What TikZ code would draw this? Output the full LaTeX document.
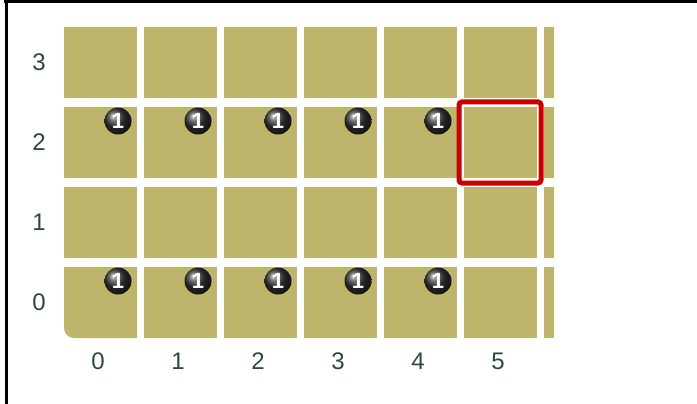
\documentclass[tikz,border=0pt]{standalone}
\usepackage{fontspec}
\setmainfont{Liberation Sans}
\definecolor{cellc}{RGB}{189,181,107}
\definecolor{redc}{RGB}{200,0,0}
\definecolor{labc}{RGB}{45,70,70}
\begin{document}
\begin{tikzpicture}[x=1pt,y=-1pt,
  cell/.style={fill=cellc,draw=none},
  lab/.style={text=labc,font=\fontsize{24}{24}\selectfont,inner sep=0pt},
  ball/.style={circle,minimum size=27pt,inner sep=0pt,shading=ball,ball color=black!80,
     text=white,font=\bfseries\fontsize{22}{22}\selectfont}]
\useasboundingbox (0,0) rectangle (697,404);
\fill[white] (0,0) rectangle (697,404);
% frame
\draw[line width=3pt] (4,2) -- (697,2);
\draw[line width=3pt] (6,0) -- (6,404);
% cells
\foreach \c in {0,...,5}{
  \foreach \r in {1,2,3}{
    \fill[cell] ({64+80*\c},{27+80*(3-\r)}) rectangle ++(73,71);
  }
}
\foreach \c in {1,...,5}{
  \fill[cell] ({64+80*\c},267) rectangle ++(73,71);
}
\fill[cell] (64,267) -- (137,267) -- (137,338) -- (74,338) arc[start angle=270,end angle=180,radius=10pt] -- cycle;
\foreach \r in {0,...,3}{
  \fill[cell] (544,{27+80*(3-\r)}) rectangle ++(10,71);
}
% highlighted square
\node[draw=redc,line width=5pt,rounded corners=3pt,minimum width=82pt,minimum height=81pt,inner sep=0pt] (sel) at (500,142.5) {};
% balls
\foreach \c in {0,...,4}{
  \node[ball] (b2\c) at ({118+80*\c},121) {1};
  \node[ball] (b0\c) at ({118+80*\c},281) {1};
}
% labels
\foreach \r in {0,...,3}{
  \node[lab] (r\r) at (39,{62+80*(3-\r)}) {\r};
}
\foreach \c in {0,...,5}{
  \node[lab] (c\c) at ({98+80*\c},361) {\c};
}
\end{tikzpicture}
\end{document}
